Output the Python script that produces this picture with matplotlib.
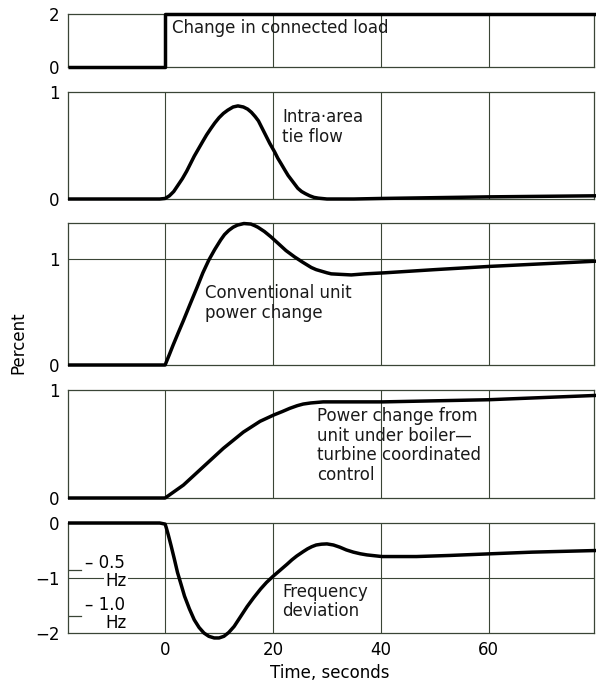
import matplotlib
matplotlib.use("Agg")
import matplotlib.pyplot as plt

plt.rcParams['font.family'] = ['DejaVu Sans']

# ---------------- data ----------------
x_ticks = [0, 20, 40, 60]
x_tick_labels = ['0', '20', '40', '60']

load_t = [-18, 0, 0, 80]
load_v = [0, 0, 2, 2]

tie_t = [-18, -1, 0, 0.8, 1.6, 2.4, 3.2, 4, 4.7, 5.4, 6.2, 7, 7.7, 8.5, 9.2, 10, 10.8,
         11.6, 12.6, 13.5, 14.5, 15.3, 16, 16.7, 17.3, 17.9, 18.5, 19.4, 20.3, 20.9,
         21.5, 22.2, 22.8, 23.4, 24, 24.6, 25.3, 26, 26.8, 27.6, 28.4, 30, 35, 40, 60, 80]
tie_v = [0, 0, 0.005, 0.03, 0.07, 0.13, 0.19, 0.26, 0.33, 0.40, 0.47, 0.54, 0.60, 0.66,
         0.71, 0.76, 0.80, 0.83, 0.86, 0.87, 0.86, 0.84, 0.81, 0.77, 0.73, 0.67, 0.61,
         0.52, 0.44, 0.38, 0.33, 0.27, 0.22, 0.18, 0.14, 0.10, 0.07, 0.05, 0.03, 0.015,
         0.008, 0.0, 0.0, 0.005, 0.02, 0.03]

conv_t = [-18, 0, 0.8, 1.5, 2.4, 3.4, 4.6, 5.9, 7, 8.1, 9.2, 10.3, 11, 11.8, 12.6, 13.4,
          14.6, 15.9, 16.6, 17.2, 18.4, 19.6, 20.9, 22.4, 24, 25.5, 27.1, 28, 29, 30,
          30.8, 32.6, 34.5, 37, 40.7, 50, 60, 70, 80]
conv_v = [0, 0, 0.10, 0.19, 0.30, 0.42, 0.57, 0.73, 0.87, 0.99, 1.09, 1.18, 1.23, 1.27,
          1.30, 1.32, 1.335, 1.33, 1.315, 1.30, 1.26, 1.21, 1.15, 1.08, 1.02, 0.97,
          0.92, 0.90, 0.885, 0.87, 0.86, 0.855, 0.85, 0.86, 0.87, 0.90, 0.93, 0.955, 0.98]

coord_t = [-18, 0, 3.4, 7.1, 10.8, 14.5, 17.6, 20.2, 21.7, 23.1, 24.5, 25.6, 27, 29.3,
           40.4, 60, 80]
coord_v = [0, 0, 0.12, 0.29, 0.46, 0.61, 0.71, 0.77, 0.80, 0.83, 0.855, 0.87, 0.88,
           0.89, 0.89, 0.91, 0.95]

freq_t = [-18, -1, 0, 0.2, 0.6, 1.1, 1.7, 2.3, 3, 3.6, 4.5, 5.4, 6.3, 7.2, 8.1, 9.1, 10,
          10.9, 11.8, 12.8, 14, 15.2, 16.4, 17.7, 18.8, 20, 21.3, 22.6, 23.5, 24.4, 25.6,
          26.4, 27.2, 28, 29, 30, 31.2, 32.4, 33.6, 34.9, 36.2, 37.4, 40.2, 46.6, 52.8,
          60.3, 68, 80]
freq_v = [0, 0, -0.02, -0.08, -0.22, -0.41, -0.65, -0.90, -1.13, -1.33, -1.56, -1.76,
          -1.90, -2.0, -2.06, -2.09, -2.09, -2.06, -1.99, -1.88, -1.70, -1.52, -1.36,
          -1.20, -1.08, -0.97, -0.86, -0.75, -0.67, -0.60, -0.52, -0.47, -0.43, -0.40,
          -0.385, -0.38, -0.40, -0.44, -0.49, -0.53, -0.56, -0.58, -0.61, -0.61, -0.59,
          -0.56, -0.53, -0.50]

hz_tick_v = [-0.85, -1.69]
hz_labels = ['\u2013 0.5', '\u2013 1.0']

panel_ylims = [(0, 2), (0, 1), (0, 1.34), (0, 1), (-2, 0)]
panel_yticks = [[0, 2], [0, 1], [0, 1], [0, 1], [-2, -1, 0]]
panel_hgrid = [[], [], [1], [], [-1]]
series = [(load_t, load_v), (tie_t, tie_v), (conv_t, conv_v), (coord_t, coord_v),
          (freq_t, freq_v)]
labels = ['Change in connected load', 'Intra\u00b7area\ntie flow',
          'Conventional unit\npower change',
          'Power change from\nunit under boiler\u2014\nturbine coordinated\ncontrol',
          'Frequency\ndeviation']
label_pos = [(1.3, 1.47), (21.7, 0.67), (7.4, 0.585), (28.1, 0.486), (21.7, -1.43)]

# ---------------- layout ----------------
W, H = 596, 683
fig = plt.figure(figsize=(W / 100, H / 100), dpi=100)
left_px, right_px = 68, 594
panels_px = [(14, 67), (92, 199), (223, 365), (390, 498), (523, 633)]

grid_col = '#3a4536'
FS = 12

axes = []
for i, (top, bot) in enumerate(panels_px):
    ax = fig.add_axes([left_px / W, 1 - bot / H, (right_px - left_px) / W, (bot - top) / H])
    axes.append(ax)
    ax.set_xlim(-18, 79.5)
    ax.set_ylim(*panel_ylims[i])
    for s in ax.spines.values():
        s.set_color(grid_col)
        s.set_linewidth(0.9)
    for xv in x_ticks:
        ax.axvline(xv, color=grid_col, lw=0.8, zorder=1)
    for hv in panel_hgrid[i]:
        ax.axhline(hv, color=grid_col, lw=0.8, zorder=1)
    ax.set_yticks(panel_yticks[i])
    ax.set_yticklabels([('\u2212%d' % -v) if v < 0 else '%d' % v for v in panel_yticks[i]],
                       fontsize=FS)
    ax.set_xticks(x_ticks)
    ax.tick_params(axis='both', length=0, pad=6, labelsize=FS)
    if i < 4:
        ax.set_xticklabels([])
    else:
        ax.set_xticklabels(x_tick_labels)
    t, v = series[i]
    ax.plot(t, v, color='black', lw=2.5, clip_on=False, zorder=3,
            solid_joinstyle='round', solid_capstyle='butt')
    ax.text(label_pos[i][0], label_pos[i][1], labels[i], fontsize=FS, ha='left',
            va='center', linespacing=1.12, color='#1a1a1a', zorder=4)

# Hz annotations on frequency panel
axf = axes[4]
for hv in hz_tick_v:
    axf.plot([-18, -15.5], [hv, hv], color=grid_col, lw=0.9, zorder=2)
axf.text(-14.8, -0.72, hz_labels[0], fontsize=FS, ha='left', va='center', zorder=4)
axf.text(-11.1, -1.05, 'Hz', fontsize=FS, ha='left', va='center', zorder=4,
         bbox=dict(facecolor='white', edgecolor='none', pad=1.0))
axf.text(-14.8, -1.49, hz_labels[1], fontsize=FS, ha='left', va='center', zorder=4)
axf.text(-11.1, -1.82, 'Hz', fontsize=FS, ha='left', va='center', zorder=4)

fig.text(18 / W, 1 - 343 / H, 'Percent', rotation=90, ha='center', va='center', fontsize=FS)
fig.text(330 / W, 1 - 673 / H, 'Time, seconds', ha='center', va='center', fontsize=FS)

fig.savefig('out.png', dpi=100)
